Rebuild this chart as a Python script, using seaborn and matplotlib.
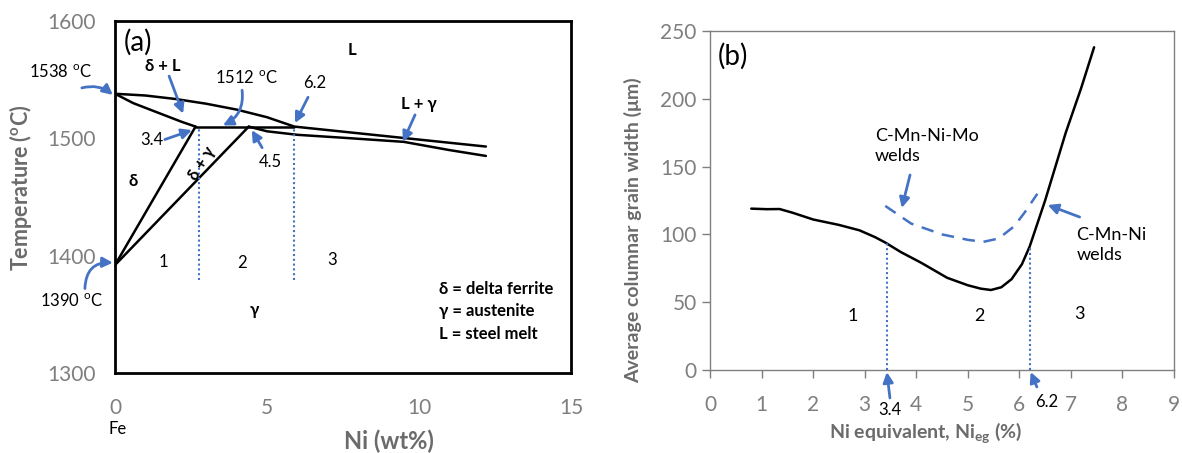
import matplotlib
matplotlib.use("Agg")
import matplotlib.pyplot as plt
import seaborn as sns
import pandas as pd
import numpy as np

# ---------------- data: panel (a) phase diagram ----------------
liq_x = [0.0, 1.0, 2.0, 3.0, 4.0, 5.0, 5.9, 12.2]
liq_y = [1538, 1536.5, 1533.5, 1529.5, 1524.5, 1518, 1510, 1493]
delta_sol_x = [0.0, 0.3, 0.6, 1.1, 1.7, 2.2, 2.65]
delta_sol_y = [1538, 1534, 1530, 1525, 1519, 1514, 1510]
perit_x = [2.65, 5.9]
perit_y = [1510, 1510]
gamma_sol_x = [4.4, 5.0, 6.0, 7.5, 9.5, 11.0, 12.2]
gamma_sol_y = [1510, 1506, 1503, 1500.5, 1497, 1490, 1485]
delta_bnd_x = [0.0, 2.65]
delta_bnd_y = [1392, 1510]
gamma_bnd_x = [0.0, 4.4]
gamma_bnd_y = [1392, 1510]
a_dotted_x = [2.77, 5.9]
a_dotted_bottom = [1379, 1379]

# ---------------- data: panel (b) grain width ----------------
cmnni_x = [0.8, 1.1, 1.35, 1.6, 2.0, 2.5, 2.9, 3.2, 3.4, 3.7, 4.1, 4.6, 5.0, 5.25, 5.45,
           5.65, 5.85, 6.05, 6.2, 6.35, 6.5, 6.7, 6.9, 7.2, 7.45]
cmnni_y = [119, 118.6, 118.7, 116, 111, 107, 103, 98, 94, 87, 79, 68, 62.5, 60, 59,
           61, 67, 78, 91, 108, 125, 150, 175, 208, 238]
mo_x = [3.4, 3.9, 4.5, 5.0, 5.3, 5.6, 5.9, 6.1, 6.35]
mo_y = [121, 108, 100, 96, 94.5, 97, 106, 116, 130]
b_dotted_x = [3.43, 6.2]
b_dotted_top = [94, 91]

a_xticks = [0, 5, 10, 15]
a_yticks = [1300, 1400, 1500, 1600]
b_xticks = list(range(0, 10))
b_yticks = [0, 50, 100, 150, 200, 250]

BLUE = "#4472C4"
GRAY_T = "#7f7f7f"
GRAY_L = "#6b6b6b"

sns.set_theme(style="white")
plt.rcParams['font.family'] = ['Lato', 'DejaVu Sans']
plt.rcParams['mathtext.fontset'] = 'custom'
plt.rcParams['mathtext.rm'] = 'Lato'
plt.rcParams['mathtext.bf'] = 'Lato:bold'

fig = plt.figure(figsize=(11.82, 4.53), dpi=100)
axa = fig.add_axes([115/1182, 1-373/453, (571-115)/1182, (373-21)/453])
axb = fig.add_axes([710/1182, 1-370/453, (1174-710)/1182, (370-31)/453])

# ---------- panel (a) ----------
segs = [(liq_x, liq_y), (delta_sol_x, delta_sol_y), (perit_x, perit_y),
        (gamma_sol_x, gamma_sol_y), (delta_bnd_x, delta_bnd_y), (gamma_bnd_x, gamma_bnd_y)]
for sx, sy in segs:
    sns.lineplot(x=sx, y=sy, ax=axa, color="black", lw=1.8, sort=False, estimator=None)
for dx, dbot in zip(a_dotted_x, a_dotted_bottom):
    axa.vlines(dx, dbot, perit_y[0], colors=BLUE, linestyles=(0, (1, 1.3)), lw=1.5)

axa.set_xlim(0, 15)
axa.set_ylim(1300, 1600)
axa.set_xticks(a_xticks)
axa.set_yticks(a_yticks)
axa.tick_params(length=0, labelsize=15, labelcolor=GRAY_T, pad=14)
axa.tick_params(axis='x', pad=18)
for s in axa.spines.values():
    s.set_color("black"); s.set_linewidth(2)
axa.set_xlabel("Ni (wt%)", fontsize=17, fontweight="bold", color=GRAY_L, labelpad=8)
axa.set_ylabel("Temperature ($^{\\mathbf{o}}$C)", fontsize=15.5, fontweight="bold", color=GRAY_L, labelpad=4)
axa.yaxis.set_label_coords(-0.178, 0.525)
axa.xaxis.set_label_coords(0.6, -0.16)

def txt(ax, x, y, s, size=12, bold=False, **kw):
    ax.text(x, y, s, fontsize=size, fontweight="bold" if bold else "normal",
            ha=kw.pop("ha", "center"), va=kw.pop("va", "center"), clip_on=False, color="black", **kw)

txt(axa, 0.76, 1582, "(a)", size=20)
txt(axa, 7.8, 1575, "L", bold=True)
txt(axa, 1.58, 1562, "δ + L", bold=True)
txt(axa, 10.0, 1529, "L + γ", bold=True)
txt(axa, 2.85, 1479, "δ + γ", bold=True, rotation=58)
txt(axa, 0.59, 1464, "δ", bold=True)
txt(axa, 4.6, 1354, "γ", bold=True)
txt(axa, 1.58, 1395, "1")
txt(axa, 4.18, 1394, "2")
txt(axa, 7.14, 1396, "3")
txt(axa, -1.81, 1556, "1538 $^{\\mathrm{o}}$C")
txt(axa, 4.31, 1551, "1512 $^{\\mathrm{o}}$C")
txt(axa, -1.45, 1361, "1390 $^{\\mathrm{o}}$C")
txt(axa, 6.58, 1547, "6.2")
txt(axa, 1.22, 1499, "3.4")
txt(axa, 5.1, 1480, "4.5")
txt(axa, 0.07, 1252, "Fe")
txt(axa, 10.66, 1372, "δ = delta ferrite", bold=True, ha="left")
txt(axa, 10.66, 1353, "γ = austenite", bold=True, ha="left")
txt(axa, 10.66, 1333, "L = steel melt", bold=True, ha="left")

def arrow(ax, start, end, rad=0.0):
    ax.annotate("", xy=end, xytext=start, annotation_clip=False,
                arrowprops=dict(arrowstyle="-|>,head_length=0.5,head_width=0.25", color=BLUE, lw=2,
                                connectionstyle=f"arc3,rad={rad}", shrinkA=0, shrinkB=0))

arrow(axa, (-1.09, 1543), (-0.07, 1537), rad=-0.25)
arrow(axa, (1.78, 1553), (2.24, 1521))
arrow(axa, (4.18, 1541), (3.55, 1511), rad=-0.35)
arrow(axa, (6.35, 1535), (5.92, 1513))
arrow(axa, (9.87, 1520), (9.47, 1497))
arrow(axa, (1.64, 1499), (2.53, 1507))
arrow(axa, (4.84, 1492), (4.5, 1507))
arrow(axa, (-0.99, 1372), (-0.07, 1394), rad=-0.5)

# ---------- panel (b) ----------
sns.lineplot(x=cmnni_x, y=cmnni_y, ax=axb, color="black", lw=1.8, sort=False, estimator=None)
sns.lineplot(x=mo_x, y=mo_y, ax=axb, color=BLUE, lw=1.8, sort=False, estimator=None,
             linestyle=(0, (5, 3.5)))
for dx, top in zip(b_dotted_x, b_dotted_top):
    axb.vlines(dx, 0, top, colors=BLUE, linestyles=(0, (1, 1.3)), lw=1.5)

axb.set_xlim(0, 9)
axb.set_ylim(0, 250)
axb.set_xticks(b_xticks)
axb.set_yticks(b_yticks)
axb.tick_params(direction="out", length=6, width=1, color="#7f7f7f", labelsize=15,
                labelcolor=GRAY_T, left=True, bottom=True)
axb.tick_params(axis='x', pad=12)
for s in axb.spines.values():
    s.set_color("#808080"); s.set_linewidth(1)
axb.set_xlabel("Ni equivalent, Ni$_{\\mathbf{eg}}$ (%)", fontsize=14, fontweight="bold",
               color=GRAY_L)
axb.set_ylabel("Average columnar grain width (μm)", fontsize=14, fontweight="bold", color=GRAY_L)
axb.yaxis.set_label_coords(-0.147, 0.413)
axb.xaxis.set_label_coords(0.465, -0.15)

txt(axb, 0.45, 231, "(b)", size=20)
txt(axb, 3.2, 165, "C-Mn-Ni-Mo\nwelds", size=13, ha="left", linespacing=1.3)
txt(axb, 7.11, 92.5, "C-Mn-Ni\nwelds", size=13, ha="left", linespacing=1.3)
txt(axb, 2.77, 40, "1", size=13)
txt(axb, 5.23, 40, "2", size=13)
txt(axb, 7.17, 41, "3", size=13)
txt(axb, 3.49, -29.5, "3.4")
txt(axb, 6.53, -23.6, "6.2")
arrow(axb, (3.88, 143.8), (3.72, 119.5))
arrow(axb, (7.17, 112.8), (6.55, 121.7))
arrow(axb, (3.49, -20.6), (3.43, -1.5))
arrow(axb, (6.34, -12.5), (6.22, -1.5))

fig.savefig("out.png", dpi=100)
